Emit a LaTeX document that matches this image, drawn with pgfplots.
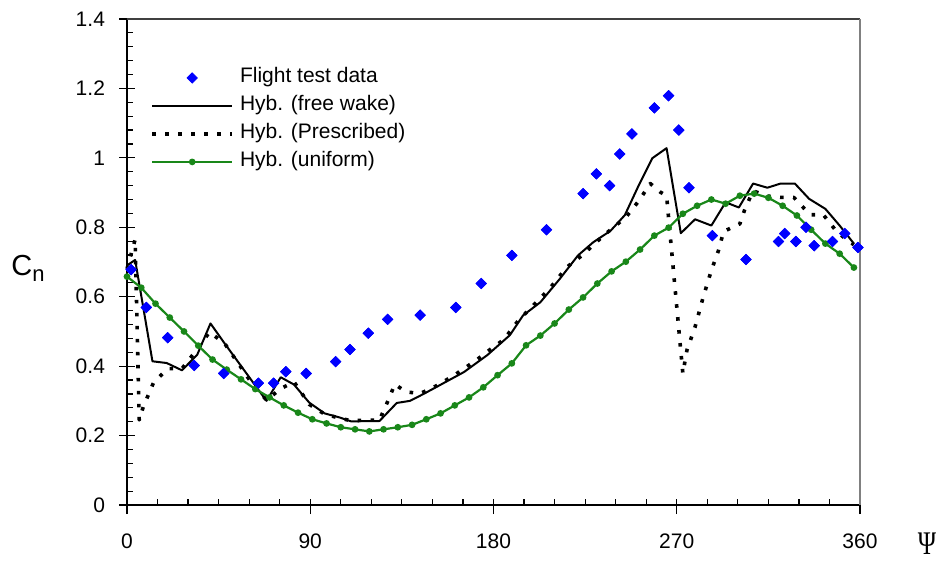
\documentclass[border=0pt]{standalone}
\usepackage{pgfplots}
\pgfplotsset{compat=1.18}
\usepackage{pgfplotstable}
\usepackage{fontspec}
\setmainfont{Liberation Sans}
\newfontfamily\psifont{Liberation Serif}
\definecolor{fblue}{RGB}{0,0,255}
\definecolor{ugreen}{RGB}{25,135,25}

\pgfplotstableread{
psi cn
2 0.678
9.5 0.569
20 0.482
33 0.402
47.5 0.379
64.5 0.351
72 0.351
78 0.384
88 0.379
102.5 0.413
109.5 0.448
118.5 0.495
128 0.535
144 0.547
161.5 0.569
174 0.638
189 0.719
206 0.793
224 0.897
230.5 0.954
237 0.920
242 1.011
248 1.069
259 1.144
266 1.179
271 1.080
276 0.914
287.5 0.776
304 0.707
320 0.759
323 0.782
328.5 0.759
333.5 0.800
337.5 0.747
346.5 0.759
352.5 0.782
359 0.742
}\flight

\pgfplotstableread{
psi cn
0 0.690
4 0.706
12.5 0.414
19.5 0.409
27 0.388
34.5 0.433
41 0.523
48 0.465
68.5 0.300
75.5 0.368
82 0.347
89.5 0.295
97 0.264
104.5 0.252
110 0.241
124 0.242
132.5 0.294
139 0.300
146 0.321
165.5 0.383
177 0.432
188 0.489
194.5 0.546
203 0.584
212.5 0.651
221.5 0.719
229 0.757
237.5 0.790
244.5 0.835
251.5 0.923
258 0.999
265 1.028
272 0.783
279 0.823
287 0.805
294 0.872
300.5 0.857
307.5 0.926
314.5 0.914
321 0.926
328 0.926
335 0.882
343 0.853
350 0.805
357 0.753
}\freewake

\pgfplotstableread{
psi cn
0 0.680
4 0.765
6 0.245
8 0.283
13 0.352
20 0.393
27 0.393
34 0.445
40.5 0.498
48 0.465
60 0.362
68.5 0.302
75.5 0.335
82 0.355
89.5 0.290
97 0.262
104.5 0.250
110 0.243
124 0.245
129 0.311
131.5 0.348
137 0.326
144 0.321
151.5 0.342
160 0.371
171.5 0.417
179.5 0.453
185 0.476
192 0.530
199.5 0.575
207.5 0.623
216 0.685
223.5 0.719
234 0.776
245 0.829
251.5 0.877
257 0.926
262 0.901
265 0.891
273 0.379
275 0.446
279 0.513
283 0.599
287 0.676
290.5 0.733
293 0.788
301 0.810
303.5 0.853
307.5 0.905
314.5 0.890
321 0.886
327.5 0.886
335.5 0.836
342 0.836
348.5 0.788
355 0.757
357 0.750
}\prescribed

\pgfplotstableread{
psi cn
0 0.658
7 0.626
14 0.580
21 0.540
28 0.500
35 0.459
42 0.419
49 0.390
56 0.362
63 0.334
70 0.310
77 0.287
84 0.266
91 0.247
98 0.235
105 0.224
112 0.218
119 0.212
126 0.218
133 0.224
140 0.231
147 0.247
154 0.264
161 0.287
168 0.310
175 0.339
182 0.374
189 0.408
196 0.460
203 0.488
210 0.523
217 0.563
224 0.598
231 0.638
238 0.673
245 0.701
252 0.736
259 0.776
266 0.799
273 0.839
280 0.862
287 0.880
294 0.868
301 0.891
308 0.897
315 0.885
322 0.862
329 0.834
336 0.793
343 0.753
350 0.724
357 0.684
}\uniform

\begin{document}
\begin{tikzpicture}
\begin{axis}[
  at={(0,0)}, anchor=south west,
  scale only axis, width=366.5pt, height=243pt,
  xmin=0, xmax=360, ymin=0, ymax=1.4,
  clip=false,
  axis x line*=bottom, axis y line*=left,
  axis line style={black, line width=0.9pt, -},
  xtick={0,90,180,270,360},
  ytick={0,0.2,0.4,0.6,0.8,1,1.2,1.4},
  minor x tick num=5, minor y tick num=4,
  tick align=inside,
  major tick length=7.5pt, minor tick length=3pt,
  tick style={black, line width=0.6pt},
  major x tick style={yshift=-4.5pt},
  major y tick style={xshift=-3.75pt},
  font=\fontsize{10.5}{12}\selectfont,
  /pgf/number format/assume math mode=true,
  /pgf/number format/fixed,
  xticklabel style={anchor=base, yshift=-21.5pt},
  yticklabel style={anchor=east, xshift=-7.5pt},
  legend style={draw=none, fill=none, at={(axis description cs:0.0314,0.9084)},
    anchor=north west, inner sep=0pt, column sep=0pt,
    font=\fontsize{10.5}{12}\selectfont,
    nodes={inner xsep=3pt, inner ysep=2pt, text height=0.75em, text depth=0.25em}},
  legend cell align=left,
  legend image code/.code={\draw[mark repeat=2,mark phase=2,#1] plot coordinates {(0pt,0pt) (20pt,0pt) (40pt,0pt)};},
]
\addplot[only marks, mark=square*, mark size=1.8pt, mark options={rotate=45, fill=fblue, draw=fblue}] table[x=psi,y=cn] {\flight};
\addlegendentry{Flight test data}
\addplot[black, line width=1pt, line join=round, no marks] table[x=psi,y=cn] {\freewake};
\addlegendentry{Hyb. (free wake)}
\addplot[black, line width=1.8pt, line join=round, dash pattern=on 1.8pt off 4.7pt, no marks] table[x=psi,y=cn] {\prescribed};
\addlegendentry{Hyb. (Prescribed)}
\addplot[ugreen, line width=1.1pt, mark=*, mark size=1.1pt, mark options={fill=ugreen, draw=ugreen}] table[x=psi,y=cn] {\uniform};
\addlegendentry{Hyb. (uniform)}
\addplot[forget plot, only marks, mark=square*, mark size=1.8pt, mark options={rotate=45, fill=fblue, draw=fblue}] table[x=psi,y=cn] {\flight};
\draw[black!75, line width=0.7pt] (rel axis cs:0,1) -- (rel axis cs:1,1);
\draw[black!50, line width=0.9pt] (rel axis cs:1,1) -- (rel axis cs:1,0);
\node[anchor=center, inner sep=0pt] at (axis description cs:-0.135,0.4877)
  {\fontsize{14.5}{14.5}\selectfont C\raisebox{-3pt}{\fontsize{11}{11}\selectfont n}};
\node[anchor=center, inner sep=0pt] at (axis description cs:1.0914,-0.0802)
  {\psifont\fontsize{16.5}{16.5}\selectfont\scalebox{0.75}[1]{Ψ}};
\end{axis}
\pgfresetboundingbox
\useasboundingbox (-63.5pt,-29pt) rectangle (409.5pt,252.5pt);
\end{tikzpicture}
\end{document}
